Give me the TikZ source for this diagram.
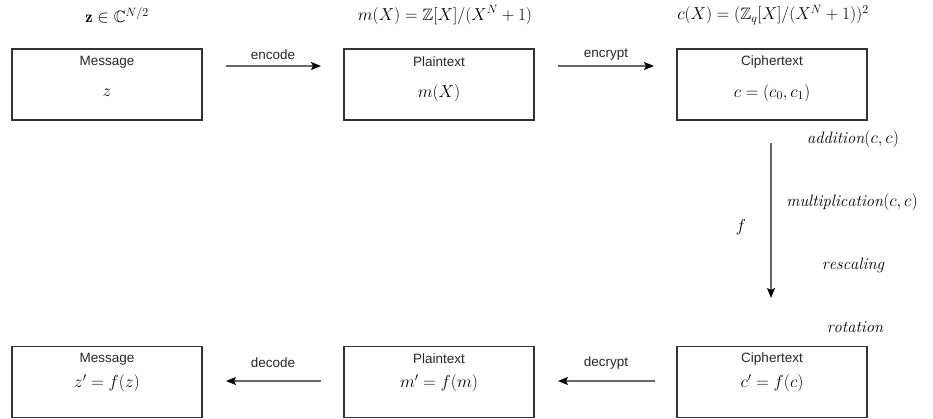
\documentclass[tikz,border=0pt]{standalone}
\usepackage{amssymb}
\usepackage{fontspec}
\setsansfont{Liberation Sans}
\usetikzlibrary{arrows.meta}
\definecolor{edge}{HTML}{333333}
\definecolor{wire}{HTML}{666666}
\begin{document}
\begin{tikzpicture}[x=1pt,y=-1pt,
  stage/.style={draw=edge,line width=1.2pt,minimum width=190pt,minimum height=71pt,inner sep=0pt},
  title/.style={font=\sffamily\fontsize{13.5}{16}\selectfont,text=black!85,inner sep=0pt},
  formula/.style={font=\fontsize{16.5}{20}\selectfont,inner sep=0pt},
  flow/.style={draw=wire,line width=1.3pt,-{Stealth[length=10pt,width=8pt,inset=2pt,color=black]}},
  verb/.style={font=\sffamily\fontsize{13.5}{16}\selectfont,text=black!85,inner sep=0pt}]
\useasboundingbox (0,0) rectangle (933,419);

% top row: message -> plaintext -> ciphertext
\node[stage] (msgA) at (107,84.5) {};
\node[stage] (ptA)  at (439,84.5) {};
\node[stage] (ctA)  at (772,84.5) {};
% bottom row: results after evaluation
\node[stage] (msgB) at (107,382) {};
\node[stage] (ptB)  at (439,382) {};
\node[stage] (ctB)  at (772,382) {};

% box contents
\node[title]   (msgAt) at (107,62) {Message};
\node[formula] (msgAm) at (107,93) {$z$};
\node[title]   (ptAt)  at (439,62) {Plaintext};
\node[formula] (ptAm)  at (439,93) {$m(X)$};
\node[title]   (ctAt)  at (772,62) {Ciphertext};
\node[formula] (ctAm)  at (772,93) {$c=(c_0,c_1)$};

\node[title]   (msgBt) at (107,359) {Message};
\node[formula] (msgBm) at (107,383) {$z'=f(z)$};
\node[title]   (ptBt)  at (439,359) {Plaintext};
\node[formula] (ptBm)  at (439,383) {$m'=f(m)$};
\node[title]   (ctBt)  at (772,359) {Ciphertext};
\node[formula] (ctBm)  at (772,383) {$c'=f(c)$};

% spaces above the top row
\node[formula] (spZ) at (117,15) {$\mathbf{z}\in\mathbb{C}^{N/2}$};
\node[formula] (spM) at (445,15) {$m(X)=\mathbb{Z}[X]/(X^N+1)$};
\node[formula] (spC) at (773,15) {$c(X)=(\mathbb{Z}_q[X]/(X^N+1))^2$};

% arrow end points
\coordinate (encS) at (226,66);  \coordinate (encE) at (321,66);
\coordinate (ecrS) at (558,66);  \coordinate (ecrE) at (654,66);
\coordinate (evS)  at (771,143); \coordinate (evE)  at (771,298);
\coordinate (dcrS) at (655,381); \coordinate (dcrE) at (558,381);
\coordinate (decS) at (321,381); \coordinate (decE) at (226,381);

\draw[flow] (encS) -- (encE);
\draw[flow] (ecrS) -- (ecrE);
\draw[flow] (evS) -- (evE);
\draw[flow] (dcrS) -- (dcrE);
\draw[flow] (decS) -- (decE);

\node[verb] (encL) at (273,55)  {encode};
\node[verb] (ecrL) at (606,55)  {encrypt};
\node[verb] (dcrL) at (606,363) {decrypt};
\node[verb] (decL) at (273,363) {decode};

% homomorphic evaluation
\node[formula] (fL)   at (741,227) {$f$};
\node[formula] (opA)  at (853,139) {$\mathit{addition}(c,c)$};
\node[formula] (opM)  at (852,202) {$\mathit{multiplication}(c,c)$};
\node[formula] (opR)  at (853,265) {$\mathit{rescaling}$};
\node[formula] (opRo) at (855,327) {$\mathit{rotation}$};
\end{tikzpicture}
\end{document}
